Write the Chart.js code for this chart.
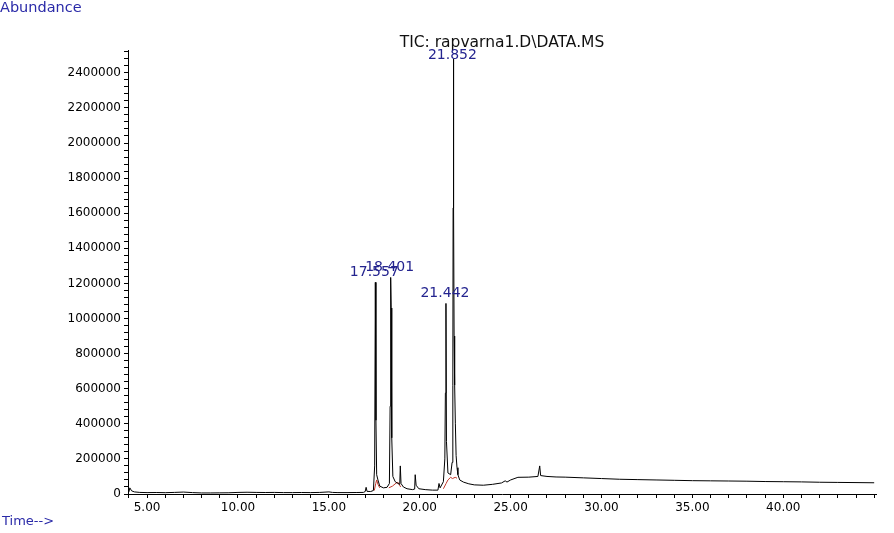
<!DOCTYPE html>
<html>
<head>
<meta charset="utf-8">
<script src="https://cdn.jsdelivr.net/npm/chart.js@4.4.1/dist/chart.umd.min.js"></script>
<style>
  html, body { margin: 0; padding: 0; background: #fff; }
  #wrap { width: 894px; height: 533px; position: relative; }
</style>
</head>
<body>
<div id="wrap"><canvas id="c"></canvas></div>
<script>
// ---- Data ----
const chartTitle = "TIC: rapvarna1.D\\DATA.MS";
const yAxisTitle = "Abundance";
const xAxisTitle = "Time-->";

const ticTimes = [
  4.00, 4.05, 4.15, 4.30, 4.60, 5.00, 5.50, 6.00, 6.50, 7.00, 7.50, 8.00, 8.50, 9.00, 9.50,
  10.00, 10.50, 11.00, 11.50, 12.00, 12.50, 13.00, 13.50, 14.00, 14.50, 15.00, 15.20, 15.50,
  16.00, 16.50, 16.90, 17.00, 17.05, 17.10, 17.30, 17.45, 17.52, 17.557, 17.59, 17.63, 17.70,
  17.80, 18.00, 18.20, 18.33, 18.37, 18.401, 18.43, 18.46, 18.52, 18.65, 18.80, 18.90, 18.93,
  18.97, 19.10, 19.30, 19.60, 19.72, 19.75, 19.80, 19.95, 20.30, 20.70, 21.00, 21.06, 21.12,
  21.30, 21.38, 21.41, 21.442, 21.47, 21.55, 21.70, 21.78, 21.82, 21.835, 21.852, 21.87, 21.89,
  21.92, 21.96, 22.00, 22.05, 22.10, 22.20, 22.40, 22.70, 23.00, 23.50, 24.00, 24.50, 24.70,
  24.80, 25.00, 25.40, 26.00, 26.50, 26.60, 26.65, 27.00, 27.50, 28.00, 29.00, 30.00, 31.00,
  32.00, 33.00, 34.00, 35.00, 36.00, 37.00, 38.00, 39.00, 40.00, 41.00, 42.00, 43.00, 44.00, 45.00
];
const ticAbundance = [
  12000, 35000, 18000, 12000, 9000, 8000, 8500, 7500, 9000, 11000, 8000, 6000, 6000, 6500, 7000,
  9000, 10000, 9000, 8500, 9000, 8000, 8000, 8500, 8000, 9000, 12000, 9000, 8000,
  8000, 8500, 9000, 14000, 38000, 15000, 14000, 20000, 160000, 1206000, 420000, 110000, 80000,
  45000, 35000, 38000, 60000, 500000, 1234000, 1060000, 320000, 100000, 70000, 60000, 55000, 160000,
  60000, 40000, 30000, 25000, 28000, 110000, 50000, 30000, 25000, 22000, 22000, 60000, 35000,
  70000, 200000, 575000, 1086000, 300000, 120000, 110000, 180000, 620000, 1630000, 2480000, 1640000, 900000,
  620000, 400000, 220000, 150000, 110000, 80000, 68000, 58000, 52000, 50000, 55000, 63000, 75000,
  68000, 80000, 95000, 96000, 100000, 160000, 105000, 100000, 97000, 96000, 92000, 88000, 84000,
  82000, 80000, 78000, 76000, 75000, 74000, 73000, 71000, 70000, 69000, 67000, 66000, 65000, 64000
];

// integration baselines (red), null = gap
const baseTimes = [
  17.50, 17.58, 17.63, 17.70, 17.80, 17.81,
  18.30, 18.50, 18.70, 18.80, 18.95, 18.96,
  21.30, 21.45, 21.55, 21.70, 21.80, 21.95, 22.05
];
const baseAbundance = [
  20000, 60000, 80000, 55000, 35000, null,
  35000, 45000, 62000, 67000, 40000, null,
  30000, 60000, 80000, 95000, 88000, 95000, 90000
];

const peakTimes = [17.557, 18.401, 21.442, 21.852];
const peakLabels = ["17.557", "18.401", "21.442", "21.852"];

// axis ticks
const yMinorStep = 40000;
const yLabelStep = 200000;
const xMinorStep = 1;
const xLabelStep = 5;
const xLabelLast = 40;

const xMin = 3.95, xMax = 45.1;
const yMin = 0, yMax = 2530000;

// ---- build ----
const ticData = ticTimes.map((t, i) => ({ x: t, y: ticAbundance[i] }));
const baseData = baseTimes.map((t, i) => ({ x: t, y: baseAbundance[i] }));

const yTickValues = [];
for (let v = yMin; v <= yMax; v += yMinorStep) yTickValues.push(v);
const xTickValues = [];
for (let v = Math.ceil(xMin); v <= xMax; v += xMinorStep) xTickValues.push(v);

const FONT = "'DejaVu Sans', sans-serif";
const BLUE = '#24248f';

const textPlugin = {
  id: 'texts',
  afterDraw(chart) {
    const ctx = chart.ctx;
    const xs = chart.scales.x, ys = chart.scales.y;
    const area = chart.chartArea;
    ctx.save();
    ctx.fillStyle = '#2a2aa8';
    ctx.textBaseline = 'middle';
    ctx.textAlign = 'left';
    ctx.font = "14.5px " + FONT;
    ctx.fillText(yAxisTitle, 0, 8);
    ctx.font = "13px " + FONT;
    ctx.fillText(xAxisTitle, 2, 522);
    ctx.fillStyle = '#111';
    ctx.textAlign = 'center';
    ctx.font = "15.5px " + FONT;
    ctx.fillText(chartTitle, 502, 43);
    ctx.fillStyle = BLUE;
    ctx.font = "14px " + FONT;
    ctx.textBaseline = 'bottom';
    peakTimes.forEach((t, i) => {
      const idx = ticTimes.indexOf(t);
      const v = ticAbundance[idx];
      const px = xs.getPixelForValue(t);
      let py = ys.getPixelForValue(v) - 3;
      py = Math.max(py, area.top + 12);
      ctx.fillText(peakLabels[i], px - 1, py);
    });
    ctx.restore();
  }
};

new Chart(document.getElementById('c'), {
  type: 'line',
  data: {
    datasets: [
      {
        label: 'baseline',
        data: baseData,
        borderColor: '#c0392b',
        borderWidth: 1,
        pointRadius: 0,
        spanGaps: false,
        tension: 0,
        order: 2
      },
      {
        label: 'TIC',
        data: ticData,
        borderColor: '#000',
        borderWidth: 1,
        pointRadius: 0,
        tension: 0,
        order: 1
      }
    ]
  },
  options: {
    responsive: true,
    maintainAspectRatio: false,
    animation: false,
    events: [],
    layout: { padding: { top: 50, right: 18, left: 0, bottom: 0 } },
    plugins: {
      legend: { display: false },
      tooltip: { enabled: false },
      title: { display: false }
    },
    scales: {
      x: {
        type: 'linear',
        min: xMin,
        max: xMax,
        afterBuildTicks(s) { s.ticks = xTickValues.map(v => ({ value: v })); },
        afterFit(s) { s.height = 39; },
        border: { display: true, color: '#000', width: 1 },
        grid: { drawOnChartArea: false, drawTicks: true, tickLength: 4, color: '#000' },
        ticks: {
          autoSkip: false,
          maxRotation: 0,
          padding: 3,
          color: '#000',
          font: { family: FONT, size: 12 },
          callback(v) {
            const r = Math.round(v);
            return (r % xLabelStep === 0 && r <= xLabelLast) ? Number(v).toFixed(2) : '';
          }
        }
      },
      y: {
        type: 'linear',
        min: yMin,
        max: yMax,
        afterBuildTicks(s) { s.ticks = yTickValues.map(v => ({ value: v })); },
        afterFit(s) { s.width = 128; },
        border: { display: true, color: '#000', width: 1 },
        grid: { drawOnChartArea: false, drawTicks: true, tickLength: 4, color: '#000' },
        ticks: {
          autoSkip: false,
          padding: 3,
          color: '#000',
          font: { family: FONT, size: 12 },
          callback(v) {
            const r = Math.round(v);
            return (r % yLabelStep === 0) ? String(r) : '';
          }
        }
      }
    }
  },
  plugins: [textPlugin]
});
</script>
</body>
</html>
